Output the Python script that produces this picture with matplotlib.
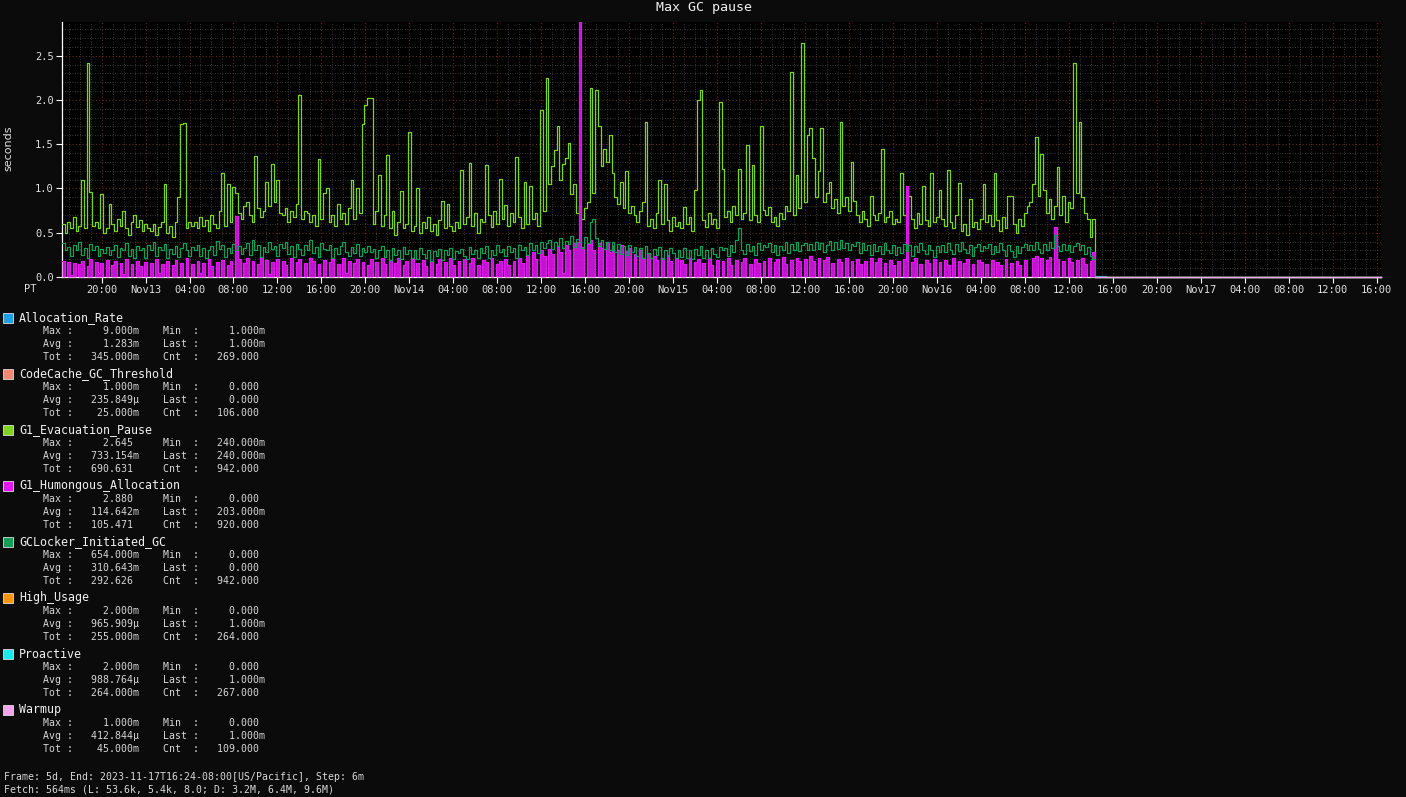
import numpy as np
import matplotlib
matplotlib.use("Agg")
import matplotlib.pyplot as plt
import matplotlib.dates as mdates
from matplotlib.ticker import MultipleLocator, FuncFormatter
from matplotlib.patches import Rectangle

plt.rcParams['font.family'] = ['DejaVu Sans Mono']

# ---- data (15 min per value, from Nov12 16:24) ----
evac = [
    0.60,0.50,0.62,0.55,0.68,0.52,0.58,1.09,0.55,2.42,0.96,0.58,0.62,0.55,0.94,0.50,
    0.55,0.83,0.60,0.52,0.66,0.58,0.75,0.55,0.48,0.62,0.70,0.56,0.64,0.52,0.60,0.55,
    0.52,0.60,0.48,0.56,0.62,1.05,0.50,0.58,0.45,0.62,0.90,1.73,1.74,0.55,0.62,0.58,
    0.62,0.55,0.68,0.58,0.64,0.52,0.70,0.60,0.55,0.75,1.18,0.58,1.05,0.62,1.02,0.95,
    0.72,0.65,0.80,0.85,0.70,0.62,1.37,0.78,0.68,0.74,1.07,0.80,1.28,0.85,1.10,0.72,
    0.70,0.78,0.62,0.74,0.68,0.82,2.05,0.66,0.75,0.72,0.62,0.70,0.58,1.33,0.66,0.95,
    1.00,0.62,0.70,0.58,0.82,0.65,0.72,0.60,0.78,1.09,0.66,1.00,0.72,1.73,1.94,2.02,
    2.02,0.60,0.75,1.15,0.58,0.70,1.38,0.55,0.75,0.48,0.62,0.97,0.55,0.60,1.64,0.52,
    0.58,1.00,0.50,0.62,0.55,0.68,0.52,0.60,0.48,0.64,0.86,0.55,0.82,0.58,0.52,0.62,
    0.55,1.21,0.60,0.68,1.29,0.58,0.72,0.50,0.66,0.62,1.26,0.70,0.56,0.74,0.60,1.11,
    0.66,0.81,0.58,0.72,0.62,1.35,0.68,0.55,1.07,0.60,1.03,0.65,0.72,0.58,1.89,0.75,
    2.25,1.05,1.25,1.43,1.70,1.10,1.28,1.34,1.51,0.94,1.05,0.72,0.80,0.65,0.78,0.85,
    2.13,0.95,2.11,1.70,1.25,1.45,1.30,1.60,1.17,0.90,0.82,1.07,0.78,1.20,0.72,0.80,
    0.70,0.62,0.75,0.85,1.75,0.58,0.66,0.55,0.72,1.10,0.60,1.05,0.64,0.52,0.68,0.58,
    0.62,0.55,0.79,0.60,0.68,0.52,0.98,2.00,2.11,0.64,0.56,0.72,0.60,0.66,0.55,1.98,
    1.22,0.68,0.75,0.62,0.80,0.70,1.22,0.66,0.72,1.49,0.64,1.26,0.70,0.62,1.70,0.76,
    0.70,0.79,0.62,0.68,0.58,0.72,0.66,0.80,0.75,2.32,0.70,1.15,0.78,2.64,0.85,1.60,
    1.68,1.34,0.90,1.20,1.68,0.85,0.95,1.07,0.78,0.88,0.72,1.75,0.80,0.90,0.75,1.30,
    0.86,0.70,0.62,0.75,0.66,0.58,0.92,0.70,0.64,0.72,1.45,0.62,0.68,0.74,0.60,0.66,
    0.62,1.18,0.70,0.58,0.92,0.66,0.55,0.72,0.60,1.03,0.64,0.58,1.17,0.62,0.68,0.98,
    0.66,0.58,1.21,0.62,0.55,0.70,1.06,0.52,0.60,0.48,0.88,0.56,0.62,0.54,0.66,1.05,
    0.62,0.70,0.58,1.17,0.64,0.52,0.68,0.55,0.92,0.92,0.60,0.50,0.66,0.58,0.72,0.80,
    0.85,1.05,1.58,0.92,1.39,0.98,0.72,0.88,0.65,0.80,1.24,0.70,0.92,0.62,0.85,0.78,
    2.42,0.95,1.75,0.90,0.72,0.66,0.45,0.66,0.24,
]

humongous = [
    0.18,0.0,0.17,0.02,0.16,0.0,0.15,0.18,0.0,0.12,0.20,0.0,0.17,0.05,0.16,0.0,
    0.19,0.0,0.14,0.18,0.0,0.16,0.03,0.20,0.0,0.15,0.0,0.18,0.12,0.0,0.17,0.0,
    0.16,0.0,0.20,0.04,0.15,0.0,0.18,0.0,0.13,0.19,0.0,0.16,0.0,0.22,0.0,0.15,
    0.0,0.18,0.05,0.16,0.0,0.20,0.12,0.0,0.17,0.0,0.19,0.0,0.14,0.18,0.0,0.69,
    0.20,0.0,0.16,0.21,0.0,0.18,0.0,0.15,0.22,0.0,0.19,0.03,0.17,0.0,0.20,0.0,
    0.18,0.14,0.0,0.21,0.0,0.17,0.20,0.0,0.16,0.0,0.22,0.18,0.0,0.15,0.0,0.19,
    0.0,0.17,0.20,0.0,0.15,0.0,0.21,0.04,0.18,0.0,0.16,0.20,0.0,0.17,0.0,0.14,
    0.20,0.0,0.17,0.0,0.22,0.15,0.0,0.19,0.0,0.16,0.21,0.0,0.13,0.18,0.0,0.20,
    0.0,0.16,0.0,0.19,0.12,0.0,0.18,0.0,0.15,0.20,0.0,0.17,0.0,0.21,0.14,0.0,
    0.18,0.0,0.20,0.0,0.16,0.22,0.0,0.14,0.0,0.19,0.17,0.0,0.21,0.0,0.15,0.18,
    0.0,0.20,0.14,0.0,0.18,0.0,0.22,0.16,0.0,0.25,0.0,0.28,0.20,0.0,0.30,0.24,
    0.0,0.32,0.26,0.0,0.35,0.28,0.05,0.36,0.30,0.0,0.38,0.40,2.88,0.34,0.0,0.37,
    0.42,0.30,0.0,0.38,0.33,0.0,0.40,0.28,0.35,0.0,0.31,0.36,0.0,0.29,0.33,0.0,
    0.26,0.0,0.30,0.22,0.0,0.27,0.0,0.24,0.19,0.0,0.22,0.0,0.25,0.18,0.0,0.21,
    0.0,0.19,0.15,0.0,0.22,0.0,0.17,0.20,0.0,0.16,0.0,0.21,0.13,0.0,0.19,0.0,
    0.18,0.0,0.21,0.14,0.0,0.19,0.0,0.17,0.22,0.0,0.15,0.0,0.20,0.16,0.0,0.18,
    0.0,0.21,0.0,0.17,0.20,0.0,0.23,0.15,0.0,0.19,0.0,0.22,0.18,0.0,0.20,0.0,
    0.24,0.18,0.0,0.21,0.0,0.19,0.23,0.0,0.16,0.0,0.20,0.17,0.0,0.22,0.0,0.18,
    0.0,0.20,0.15,0.0,0.18,0.0,0.22,0.0,0.17,0.21,0.0,0.16,0.0,0.19,0.14,0.0,
    0.18,0.0,0.20,1.03,0.0,0.17,0.21,0.0,0.15,0.0,0.19,0.16,0.0,0.20,0.0,0.17,
    0.0,0.19,0.14,0.0,0.21,0.0,0.18,0.0,0.16,0.20,0.0,0.15,0.0,0.19,0.17,0.0,
    0.15,0.0,0.19,0.0,0.17,0.14,0.0,0.20,0.0,0.16,0.0,0.18,0.13,0.0,0.19,0.0,
    0.0,0.21,0.24,0.0,0.22,0.0,0.19,0.23,0.0,0.56,0.20,0.0,0.18,0.0,0.21,0.17,
    0.0,0.19,0.0,0.22,0.15,0.0,0.18,0.28,0.203,
]

gclocker = [
    0.38,0.30,0.34,0.24,0.36,0.31,0.40,0.25,0.33,0.22,0.37,0.30,0.35,0.24,0.32,0.27,
    0.34,0.25,0.31,0.36,0.23,0.33,0.30,0.38,0.24,0.32,0.21,0.35,0.30,0.33,0.22,0.36,
    0.31,0.40,0.24,0.34,0.30,0.37,0.22,0.32,0.26,0.35,0.23,0.33,0.38,0.30,0.24,0.34,
    0.30,0.36,0.24,0.33,0.22,0.31,0.35,0.25,0.41,0.32,0.36,0.23,0.33,0.27,0.37,0.31,
    0.35,0.26,0.33,0.38,0.25,0.42,0.31,0.36,0.23,0.34,0.28,0.39,0.32,0.35,0.24,0.37,
    0.33,0.40,0.26,0.35,0.23,0.37,0.32,0.25,0.36,0.31,0.42,0.27,0.34,0.23,0.38,0.32,
    0.30,0.36,0.22,0.33,0.26,0.35,0.40,0.28,0.24,0.34,0.27,0.37,0.24,0.33,0.28,0.35,
    0.28,0.32,0.21,0.30,0.35,0.23,0.31,0.19,0.33,0.25,0.30,0.20,0.34,0.26,0.31,0.22,
    0.30,0.20,0.33,0.26,0.21,0.31,0.18,0.29,0.24,0.32,0.19,0.30,0.25,0.33,0.20,0.29,
    0.27,0.32,0.24,0.20,0.34,0.26,0.30,0.21,0.33,0.27,0.35,0.22,0.31,0.25,0.36,0.28,
    0.32,0.24,0.35,0.28,0.33,0.22,0.36,0.30,0.34,0.25,0.38,0.30,0.36,0.27,0.40,0.33,
    0.38,0.42,0.32,0.40,0.35,0.44,0.33,0.41,0.37,0.46,0.34,0.43,0.40,0.33,0.45,0.38,
    0.62,0.654,0.44,0.35,0.42,0.32,0.40,0.30,0.39,0.28,0.37,0.26,0.35,0.25,0.36,0.28,
    0.34,0.24,0.33,0.22,0.35,0.27,0.21,0.32,0.25,0.34,0.20,0.31,0.24,0.33,0.27,0.22,
    0.31,0.23,0.33,0.21,0.30,0.20,0.32,0.25,0.35,0.22,0.31,0.21,0.33,0.26,0.23,0.34,
    0.30,0.33,0.24,0.36,0.28,0.42,0.55,0.30,0.26,0.37,0.29,0.35,0.25,0.38,0.30,0.36,
    0.34,0.38,0.28,0.36,0.25,0.35,0.30,0.39,0.27,0.37,0.31,0.40,0.29,0.36,0.38,0.31,
    0.37,0.30,0.40,0.32,0.38,0.28,0.36,0.41,0.30,0.39,0.32,0.42,0.33,0.38,0.30,0.37,
    0.35,0.40,0.27,0.38,0.30,0.36,0.25,0.37,0.29,0.35,0.26,0.38,0.31,0.27,0.36,0.25,
    0.34,0.27,0.37,0.29,0.36,0.24,0.35,0.28,0.38,0.31,0.26,0.36,0.30,0.23,0.35,0.28,
    0.36,0.28,0.38,0.31,0.26,0.37,0.29,0.40,0.32,0.27,0.36,0.24,0.34,0.37,0.29,0.35,
    0.33,0.37,0.26,0.35,0.28,0.38,0.31,0.24,0.36,0.29,0.23,0.35,0.27,0.34,0.37,0.30,
    0.36,0.30,0.39,0.32,0.27,0.37,0.31,0.40,0.33,0.48,0.35,0.29,0.37,0.30,0.36,0.28,
    0.35,0.38,0.30,0.36,0.26,0.34,0.24,0.20,0.0,
]

# tiny series at the tail, hourly from Nov16 14:24
alloc_rate = [0.009,0.001,0.001,0.002,0.001,0.001,0.001,0.002,0.001,0.001,0.001,0.001,0.002,0.001,
              0.001,0.001,0.001,0.001,0.002,0.001,0.001,0.001,0.001,0.001,0.002,0.001,0.001]
codecache = [0.001,0.0,0.0,0.001,0.0,0.0,0.0,0.001,0.0,0.0,0.0,0.0,0.001,0.0,
             0.0,0.0,0.0,0.001,0.0,0.0,0.0,0.0,0.001,0.0,0.0,0.0,0.0]
high_usage = [0.001,0.001,0.002,0.001,0.001,0.001,0.001,0.001,0.002,0.001,0.001,0.001,0.001,0.001,
              0.001,0.002,0.001,0.001,0.001,0.001,0.001,0.001,0.001,0.002,0.001,0.001,0.001]
proactive = [0.001,0.002,0.001,0.001,0.001,0.001,0.002,0.001,0.001,0.001,0.001,0.001,0.001,0.002,
             0.001,0.001,0.001,0.001,0.001,0.002,0.001,0.001,0.001,0.001,0.001,0.001,0.001]
warmup = [0.0,0.001,0.0,0.001,0.0,0.0,0.001,0.0,0.001,0.0,0.0,0.001,0.0,0.0,
          0.001,0.0,0.0,0.001,0.0,0.001,0.0,0.0,0.001,0.0,0.0,0.0,0.001]

names = ['Allocation_Rate', 'CodeCache_GC_Threshold', 'G1_Evacuation_Pause',
         'G1_Humongous_Allocation', 'GCLocker_Initiated_GC', 'High_Usage',
         'Proactive', 'Warmup']
colors = ['#1f9fdf', '#f08a70', '#7ed321', '#e317f2', '#129e57', '#ff9410',
          '#22e6ee', '#f5a3ee']
# (max, min, avg, last, tot, cnt) as shown in the legend
stats = [
    ('9.000m', '1.000m', '1.283m', '1.000m', '345.000m', '269.000'),
    ('1.000m', '0.000', '235.849μ', '0.000', '25.000m', '106.000'),
    ('2.645', '240.000m', '733.154m', '240.000m', '690.631', '942.000'),
    ('2.880', '0.000', '114.642m', '203.000m', '105.471', '920.000'),
    ('654.000m', '0.000', '310.643m', '0.000', '292.626', '942.000'),
    ('2.000m', '0.000', '965.909μ', '1.000m', '255.000m', '264.000'),
    ('2.000m', '0.000', '988.764μ', '1.000m', '264.000m', '267.000'),
    ('1.000m', '0.000', '412.844μ', '1.000m', '45.000m', '109.000'),
]

W, H = 1406, 797
fig = plt.figure(figsize=(W / 100, H / 100), dpi=100, facecolor='#0b0b0b')
ax = fig.add_axes([62 / W, 1 - 277 / H, (1381 - 62) / W, (277 - 22) / H], facecolor='black')

t0 = np.datetime64('2023-11-12T16:24')
t_end = np.datetime64('2023-11-17T16:24')
tail0 = np.datetime64('2023-11-16T14:24')


def times(n, start, minutes):
    return start + np.arange(n) * np.timedelta64(minutes, 'm')


series = [
    (alloc_rate, tail0, 60),
    (codecache, tail0, 60),
    (evac, t0, 15),
    (humongous, t0, 15),
    (gclocker, t0, 15),
    (high_usage, tail0, 60),
    (proactive, tail0, 60),
    (warmup, tail0, 60),
]
for k, (vals, st, mins) in enumerate(series):
    t = times(len(vals), st, mins)
    tail = st == tail0
    ax.step(t, vals, where='post', color=colors[k], linewidth=0.9,
            zorder=3 + k, clip_on=not tail)
    if names[k] == 'G1_Humongous_Allocation':
        # dense humongous spikes render as solid bars in the original
        ax.fill_between(t, 0, vals, step='post', color=colors[k], linewidth=0,
                        alpha=0.85, zorder=3 + k)

ax.set_xlim(t0, t_end)
ax.set_ylim(0, 2.88)

ax.xaxis.set_major_locator(mdates.HourLocator(byhour=range(0, 24, 4)))
ax.xaxis.set_minor_locator(mdates.HourLocator())


def xfmt(x, pos):
    d = mdates.num2date(x)
    if d.hour == 0:
        return d.strftime('%b%d')
    return d.strftime('%H:%M')


ax.xaxis.set_major_formatter(FuncFormatter(xfmt))
ax.yaxis.set_major_locator(MultipleLocator(0.5))
ax.yaxis.set_minor_locator(MultipleLocator(0.1))
ax.yaxis.set_major_formatter(FuncFormatter(lambda v, p: '%.1f' % v))

ax.grid(which='major', color='#652626', linestyle=(0, (1, 2)), linewidth=0.8)
ax.grid(which='minor', color='#4a4a4a', linestyle=(0, (1, 2)), linewidth=0.6)
ax.set_axisbelow(True)

for s in ['top', 'right']:
    ax.spines[s].set_visible(False)
for s in ['left', 'bottom']:
    ax.spines[s].set_color('white')
    ax.spines[s].set_linewidth(0.9)
ax.tick_params(which='major', direction='out', length=4, color='white',
               labelcolor='#e0e0e0', labelsize=7.5, pad=2)
ax.tick_params(which='minor', length=0)

fig.text(704 / W, 1 - 8 / H, 'Max GC pause', ha='center', va='center',
         fontsize=9.6, color='#f0f0f0')
fig.text(8 / W, 1 - 148 / H, 'seconds', ha='center', va='center', rotation=90,
         fontsize=8, color='#e0e0e0', family='DejaVu Sans')
fig.text(30 / W, 1 - 289 / H, 'PT', ha='center', va='center', fontsize=7.5, color='#e0e0e0')


def val(s):
    if s[-1] in 'mμ':
        return s[:-1].rjust(10) + s[-1]
    return s.rjust(10) + ' '


for i, name in enumerate(names):
    y = 318 + 56 * i
    fig.add_artist(Rectangle((3 / W, 1 - (y + 5) / H), 10 / W, 10 / H,
                             transform=fig.transFigure, facecolor=colors[i],
                             edgecolor='#dddddd', linewidth=0.6))
    fig.text(19 / W, 1 - y / H, name, ha='left', va='center', fontsize=8.4, color='#f0f0f0')
    mx, mn, av, la, to, cn = stats[i]
    lines = ['Max :' + val(mx) + '    Min  :' + val(mn),
             'Avg :' + val(av) + '    Last :' + val(la),
             'Tot :' + val(to) + '    Cnt  :' + val(cn)]
    for j, ln in enumerate(lines):
        fig.text(43 / W, 1 - (y + 13 * (j + 1)) / H, ln, ha='left', va='center',
                 fontsize=7.1, color='#d8d8d8')

fig.text(4 / W, 1 - 777 / H, 'Frame: 5d, End: 2023-11-17T16:24-08:00[US/Pacific], Step: 6m',
         ha='left', va='center', fontsize=7.1, color='#d8d8d8')
fig.text(4 / W, 1 - 790 / H, 'Fetch: 564ms (L: 53.6k, 5.4k, 8.0; D: 3.2M, 6.4M, 9.6M)',
         ha='left', va='center', fontsize=7.1, color='#d8d8d8')

fig.savefig('out.png', dpi=100, facecolor=fig.get_facecolor())
